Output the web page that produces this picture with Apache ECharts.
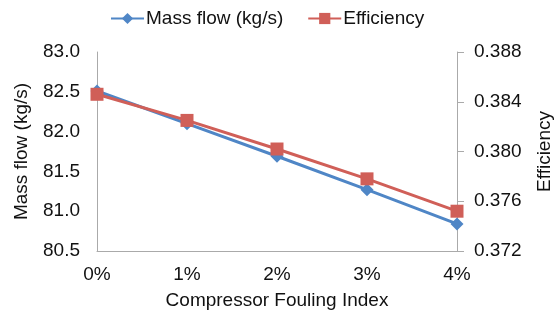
<!DOCTYPE html>
<html>
<head>
<meta charset="utf-8">
<script src="https://cdn.jsdelivr.net/npm/echarts@6/dist/echarts.min.js"></script>
<style>
html,body{margin:0;padding:0;background:#fff;}
#main{width:558px;height:313px;}
</style>
</head>
<body>
<div id="main"></div>
<script>
// data
const foulingIndex = ['0%', '1%', '2%', '3%', '4%']
const massFlow = [82.51, 82.10, 81.69, 81.27, 80.84]
const efficiency = [0.3846, 0.3825, 0.3802, 0.3778, 0.3752]

const blue = '#4F86C6'
const red = '#D05F58'
const font = 'Liberation Sans, Arial, sans-serif'
const fs = 19

const myEcharts = echarts.init(document.getElementById('main'))
myEcharts.setOption({
    animation: false,
    textStyle: { fontFamily: font },
    legend: {
        top: 4,
        left: 105,
        itemGap: 24,
        itemWidth: 33,
        itemHeight: 14,
        textStyle: { fontSize: fs, color: '#111', fontFamily: font, padding: [0, 0, 0, -3] },
        data: ['Mass flow (kg/s)', 'Efficiency']
    },
    grid: { left: 97, right: 101, top: 52, bottom: 62, outerBoundsMode: 'none' },
    xAxis: {
        type: 'category',
        data: foulingIndex,
        boundaryGap: false,
        name: 'Compressor Fouling Index',
        nameLocation: 'middle',
        nameGap: 40,
        nameTextStyle: { fontSize: fs, color: '#111' },
        axisLine: { lineStyle: { color: '#AAAAAA' } },
        axisTick: { show: false },
        axisLabel: { fontSize: fs, color: '#111', margin: 14 }
    },
    yAxis: [
        {
            type: 'value',
            min: 80.5, max: 83.0, interval: 0.5,
            name: 'Mass flow (kg/s)',
            nameLocation: 'middle',
            nameGap: 66,
            nameTextStyle: { fontSize: fs, color: '#111' },
            axisLine: { show: true, lineStyle: { color: '#AAAAAA' } },
            axisTick: { show: false },
            splitLine: { show: false },
            axisLabel: { fontSize: fs, color: '#111', margin: 17, formatter: v => v.toFixed(1) }
        },
        {
            type: 'value',
            min: 0.372, max: 0.388, interval: 0.004,
            name: 'Efficiency',
            nameLocation: 'middle',
            nameGap: 78,
            nameTextStyle: { fontSize: fs, color: '#111' },
            axisLine: { show: true, lineStyle: { color: '#AAAAAA' } },
            axisTick: { show: true, length: 7, lineStyle: { color: '#AAAAAA' } },
            splitLine: { show: false },
            axisLabel: { fontSize: fs, color: '#111', margin: 17, formatter: v => v.toFixed(3) }
        }
    ],
    series: [
        {
            name: 'Mass flow (kg/s)',
            type: 'line',
            yAxisIndex: 0,
            data: massFlow,
            symbol: 'diamond',
            symbolSize: 13,
            lineStyle: { width: 3, color: blue },
            itemStyle: { color: blue }
        },
        {
            name: 'Efficiency',
            type: 'line',
            yAxisIndex: 1,
            data: efficiency,
            symbol: 'rect',
            symbolSize: 13,
            lineStyle: { width: 3, color: red },
            itemStyle: { color: red }
        }
    ]
})
</script>
</body>
</html>
